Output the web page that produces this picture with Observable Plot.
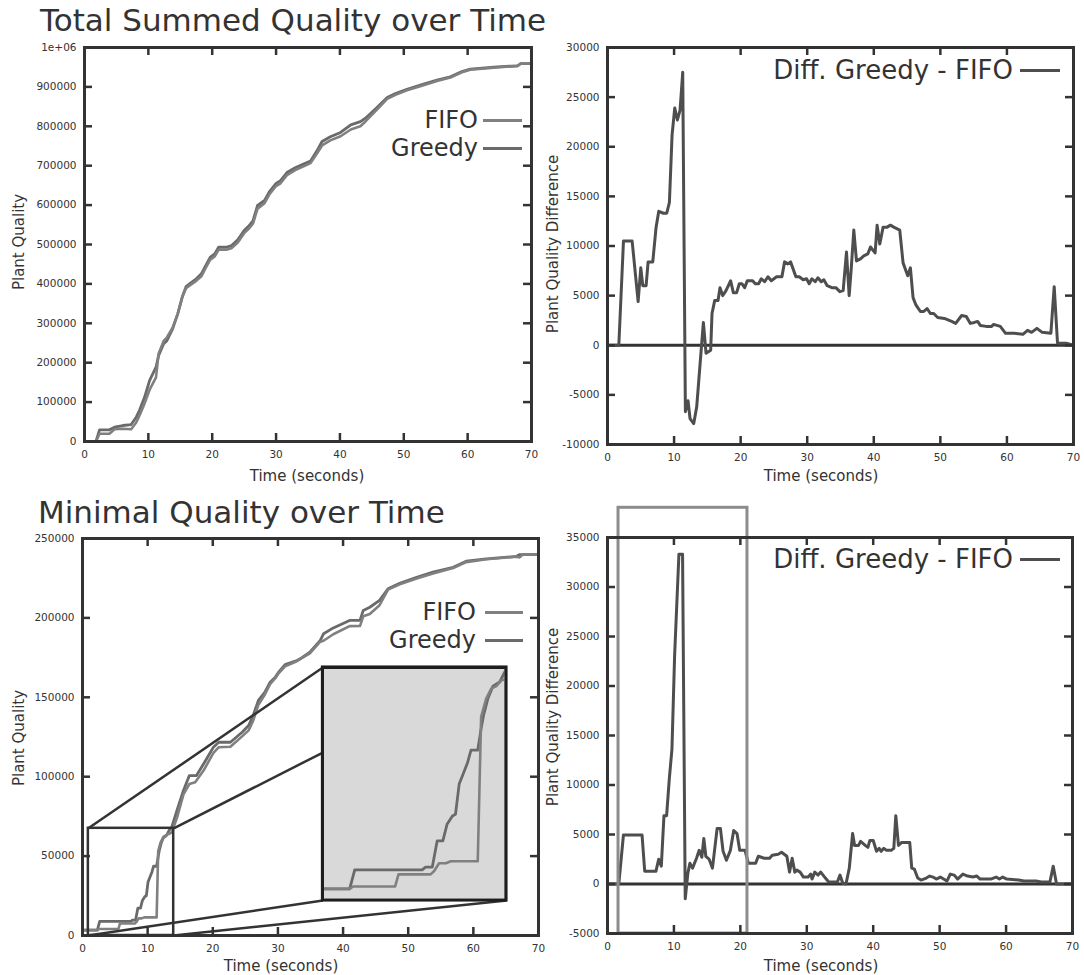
<!DOCTYPE html>
<html>
<head>
<meta charset="utf-8">
<script src="https://cdn.jsdelivr.net/npm/d3@7"></script>
<script src="https://cdn.jsdelivr.net/npm/@observablehq/plot@0.6"></script>
<style>
  html, body { margin: 0; padding: 0; background: #fff; }
  #root { position: relative; width: 1084px; height: 975px; overflow: hidden;
          font-family: "DejaVu Sans", sans-serif; color: #333; background: #fff; }
  #root svg { position: absolute; max-width: none; }
</style>
</head>
<body>
<div id="root"></div>
<script>
// ---------------- DATA ----------------
const xTicks = [0, 10, 20, 30, 40, 50, 60, 70];
const tlYTicks = [0, 100000, 200000, 300000, 400000, 500000, 600000, 700000, 800000, 900000, 1000000];
const trYTicks = [-10000, -5000, 0, 5000, 10000, 15000, 20000, 25000, 30000];
const blYTicks = [0, 50000, 100000, 150000, 200000, 250000];
const brYTicks = [-5000, 0, 5000, 10000, 15000, 20000, 25000, 30000, 35000];

const titles = ["Total Summed Quality over Time", "Minimal Quality over Time"];
const seriesNames = ["FIFO", "Greedy"];
const diffName = "Diff. Greedy - FIFO";
const xLabel = "Time (seconds)";
const yLabelQ = "Plant Quality";
const yLabelD = "Plant Quality Difference";

// Total summed quality
const tlTime = [1.8,2.35,3.9,4.7,6.0,7.3,8.1,8.6,9.4,10.2,11.2,11.6,12.4,12.9,13.8,14.6,15.3,15.9,16.6,17.5,18.3,19.0,19.7,20.4,21.0,22.2,23.0,24.0,25.0,25.8,26.4,27.1,28.2,29.0,30.0,30.7,31.7,33.0,34.3,35.4,36.4,37.2,38.5,40.1,41.7,43.2,44.0,45.8,47.4,48.7,50.5,53.1,55.2,57.3,59.1,60.4,64.6,67.8,68.3,70];
const tlGreedy = [0,29700,29700,36300,40600,43100,61700,78700,112000,155000,188500,218000,248000,256000,286000,324000,366000,393000,402000,413000,425600,446700,467800,476000,493000,493000,497000,512000,535500,548000,561000,599000,612000,635000,655000,662000,682700,695000,704000,712000,737800,761400,773300,784300,803700,812000,820600,847700,873000,883000,894000,907000,917000,925600,939000,945000,951000,953500,959000,959000];
const tlFifo = [0,19500,19500,31300,32200,31200,48400,65400,96000,131500,162500,223000,255400,263900,289000,324000,366500,389000,397500,407800,419300,441400,461700,469900,486500,486800,490400,505100,528800,541100,553400,590800,605000,628200,648400,655300,676100,689000,698200,706500,730800,751400,764300,774800,791800,800200,812300,842700,869600,879800,891300,904000,914700,923700,937100,943800,949400,953300,958800,959000];

// Difference of summed quality (Greedy - FIFO)
const trTime = [0,1.7,2.4,3.7,4.6,5.0,5.3,5.8,6.1,6.8,7.3,7.7,8.4,8.9,9.3,9.7,10.1,10.5,10.9,11.3,11.7,12.1,12.4,12.95,13.4,14.4,14.8,15.5,15.7,16.1,16.6,16.9,17.3,17.8,18.5,18.9,19.4,19.8,20.2,20.6,21.0,21.8,22.2,22.7,23.1,23.6,24.1,24.6,25.4,26.2,26.6,27.1,27.5,28.3,28.8,29.4,29.9,30.3,30.7,31.2,31.6,32.1,32.5,33.0,33.7,34.3,34.9,35.4,35.9,36.3,36.6,37.0,37.4,38.0,38.5,39.1,39.5,40.2,40.5,40.9,41.4,42.0,42.5,43.0,43.9,44.4,45.1,45.5,45.9,46.3,47.0,47.5,48.0,48.5,49.0,49.6,50.6,51.7,52.3,53.2,53.9,54.5,55.1,55.6,56.0,56.9,57.7,58.0,59.0,59.8,61.1,62.4,63.1,63.7,64.5,65.3,66.6,67.1,67.6,68.9,70];
const trDiff = [0,0,10500,10500,4400,7800,6000,6000,8400,8400,11900,13500,13300,13300,14400,21200,23900,22700,23700,27500,-6700,-5600,-7400,-7900,-6200,2300,-800,-500,3200,4500,4500,5800,5000,5500,6500,5300,5300,6200,6200,5800,6500,6500,6200,6200,6700,6400,6900,6500,6900,6900,8400,8200,8400,6900,6900,6600,6700,6200,6700,6400,6800,6400,6600,6000,5800,5800,5400,5500,9400,5000,7600,11600,8500,8700,9000,9200,9900,9300,12100,10200,11900,11900,12100,11900,11600,8300,7000,7800,4800,4100,3400,3400,3700,3200,3200,2800,2700,2400,2200,3000,2900,2200,2300,2400,2000,1900,1900,2100,1900,1200,1200,1100,1500,1300,1700,1300,1200,5900,200,200,0];

// Minimal quality
const blGreedyTime = [0.3,2.28,2.64,7.43,7.67,8.15,8.5,8.9,9.2,9.58,9.8,10.06,10.3,10.66,10.9,11.38,11.62,11.79,12.1,12.46,12.94,13.3,13.7,14.5,15.5,16.4,17.5,18.6,20.1,20.9,22.7,24.5,25.5,26.2,27.0,28.0,28.8,29.6,30.1,31.1,32.9,33.4,34.9,36.5,37.0,38.5,41.0,42.6,43.1,44.1,45.6,46.9,48.7,51.3,53.8,56.9,58.9,62.0,66.6,67.1,70];
const blGreedy = [3400,3400,8900,8900,9700,9700,17300,17300,22100,24500,25000,33750,36200,40000,43600,43600,49800,53600,58500,62100,63300,66200,68200,78700,91300,100700,100700,108100,118600,121700,121700,128000,132200,138500,148000,153200,159500,162700,165800,170600,173200,174200,178400,185800,190000,193700,198400,198400,204700,206700,211000,218300,221800,225600,228800,231900,235700,237200,238700,239900,240000];
const blFifoTime = [0.3,2.28,2.52,5.51,5.75,8.03,8.27,8.63,9.11,9.47,11.38,11.62,11.98,12.34,12.7,13.06,13.3,13.7,14.5,15.5,16.4,17.3,18.6,20.1,20.9,22.7,24.5,25.5,26.2,27.0,28.0,28.8,29.6,30.1,31.1,32.9,33.4,34.9,36.5,37.0,38.5,41.0,42.6,43.1,44.1,45.6,46.9,48.7,51.3,53.8,56.9,58.9,62.0,66.6,67.1,67.6,70];
const blFifo = [3400,3400,4100,4100,7600,7600,8500,10800,10800,11400,11400,53200,58500,61400,62100,63800,64000,65000,74100,88800,95400,96500,104000,115000,118500,118900,125400,129200,135300,145200,151800,158300,162000,165100,169500,172700,174000,177700,185000,185600,189700,194800,195000,201000,202500,208000,217800,221100,224800,228000,231400,235100,236900,238500,238100,239900,240000];

// Difference of minimal quality (Greedy - FIFO)
const brTime = [0,1.7,2.4,5.2,5.6,7.3,7.7,8.1,8.5,8.9,9.3,9.7,10.1,10.75,11.3,11.7,12.1,12.4,12.8,13.4,13.8,14.2,14.5,14.8,15.3,15.8,16.5,17.0,17.4,17.9,18.5,19.0,19.5,19.9,20.7,21.2,22.3,22.7,23.6,24.4,24.8,25.7,26.2,27.0,27.4,27.8,28.2,28.5,29.0,29.5,30.2,30.6,30.8,31.2,31.7,32.1,32.8,33.3,34.6,35.0,35.4,35.9,36.4,36.9,37.2,37.8,38.1,38.8,39.2,39.5,40.0,40.5,40.9,41.2,41.6,42.0,42.7,43.1,43.4,43.8,44.3,45.5,45.8,46.2,46.7,47.2,48.0,48.5,49.0,49.5,50.1,51.1,51.6,52.2,52.7,53.5,54.2,55.0,55.6,56.1,57.7,58.5,59.0,59.5,60.1,61.9,62.7,64.5,65.3,66.6,67.1,67.6,70];
const brDiff = [0,0,4950,4950,1300,1300,2500,1800,6900,6900,10600,13600,23000,33300,33300,-1500,1100,2100,1600,2600,3400,2700,4600,2800,2500,1600,5600,5600,3300,2400,3400,5400,5100,3400,3400,2100,2100,2800,2600,2600,2900,3000,3200,2800,1200,2600,1200,1400,1200,700,700,1000,500,1200,900,1200,600,200,200,900,100,0,1600,5100,3900,3900,4300,3900,3700,4400,4400,3300,3600,3300,3600,3400,3400,3600,6900,3900,4200,4200,1600,1500,600,400,600,800,700,500,700,300,1000,900,500,1000,800,700,800,500,500,700,500,700,500,400,300,300,200,200,1800,0,0];

// Annotations (data coordinates)
const zoomBox = [{x1: 0.9, x2: 14.0, y1: 0, y2: 67500}];
const insetBox = [{x1: 36.9, x2: 65.1, y1: 22000, y2: 168800}];
const insetDomainX = [0.35, 13.4];
const connectors = [
  {x1: 0.9, y1: 67500, x2: 36.9, y2: 168800},
  {x1: 14.0, y1: 67500, x2: 36.9, y2: 115200},
  {x1: 0.9, y1: 0, x2: 36.9, y2: 22000},
  {x1: 14.0, y1: 0, x2: 65.1, y2: 22000}
];
const highlight = [{x1: 1.66, x2: 21.07, y1: -5000, y2: 38000}];

// ---------------- BUILD ----------------
const W = 1084;
const root = document.getElementById("root");
const zip = (ts, vs) => ts.map((t, i) => ({t, v: vs[i]}));
const fmt = d => d === 1000000 ? "1e+06" : String(d);

const C_FIFO = "#808080", C_GREEDY = "#6a6a6a", C_DIFF = "#4e4e4e", C_AX = "#333333";

function panel({width, height, mt, mr, mb, ml, yDomain, yTicks, marks}) {
  const fh = height - mt - mb, fw = width - ml - mr;
  return Plot.plot({
    width, height, marginTop: mt, marginRight: mr, marginBottom: mb, marginLeft: ml,
    style: {fontFamily: "DejaVu Sans, sans-serif", fontSize: "10.5px", color: "#333", background: "transparent", overflow: "visible"},
    x: {domain: [0, 70], ticks: xTicks, tickSize: 0, tickPadding: 9, tickFormat: fmt, label: null},
    y: {domain: yDomain, ticks: yTicks, tickSize: 0, tickPadding: 8, tickFormat: fmt, label: null},
    marks: [
      ...marks,
      Plot.tickX(xTicks, {x: d => d, stroke: C_AX, strokeWidth: 2.5, insetTop: fh - 8}),
      Plot.tickX(xTicks, {x: d => d, stroke: C_AX, strokeWidth: 2.5, insetBottom: fh - 8}),
      Plot.tickY(yTicks, {y: d => d, stroke: C_AX, strokeWidth: 2.5, insetRight: fw - 8}),
      Plot.tickY(yTicks, {y: d => d, stroke: C_AX, strokeWidth: 2.5, insetLeft: fw - 8}),
      Plot.frame({stroke: C_AX, strokeWidth: 3})
    ]
  });
}
function place(el, left, top) {
  el.style.position = "absolute"; el.style.left = left + "px"; el.style.top = top + "px";
  root.appendChild(el);
}

// Top-left
const tl = panel({width: 545, height: 450, mt: 7, mr: 14, mb: 49, ml: 84,
  yDomain: [0, 1000000], yTicks: tlYTicks,
  marks: [
    Plot.line(zip(tlTime, tlGreedy), {x: "t", y: "v", stroke: C_GREEDY, strokeWidth: 2.8}),
    Plot.line(zip(tlTime, tlFifo), {x: "t", y: "v", stroke: C_FIFO, strokeWidth: 2.6})
  ]});
place(tl, 0, 40);

// Top-right
const tr = panel({width: 539, height: 450, mt: 7, mr: 11, mb: 46, ml: 62,
  yDomain: [-10000, 30000], yTicks: trYTicks,
  marks: [
    Plot.ruleY([0], {stroke: C_AX, strokeWidth: 3}),
    Plot.line(zip(trTime, trDiff), {x: "t", y: "v", stroke: C_DIFF, strokeWidth: 3})
  ]});
place(tr, 545, 40);

// Bottom-left
const bl = panel({width: 545, height: 475, mt: 38, mr: 7, mb: 40, ml: 82,
  yDomain: [0, 250000], yTicks: blYTicks,
  marks: [
    Plot.line(zip(blGreedyTime, blGreedy), {x: "t", y: "v", stroke: C_GREEDY, strokeWidth: 2.8}),
    Plot.line(zip(blFifoTime, blFifo), {x: "t", y: "v", stroke: C_FIFO, strokeWidth: 2.6}),
    Plot.rect(zoomBox, {x1: "x1", x2: "x2", y1: "y1", y2: "y2", fill: "none", stroke: C_AX, strokeWidth: 2.5}),
    Plot.link(connectors, {x1: "x1", y1: "y1", x2: "x2", y2: "y2", stroke: C_AX, strokeWidth: 2.5}),
    Plot.rect(insetBox, {x1: "x1", x2: "x2", y1: "y1", y2: "y2", fill: "#d9d9d9", stroke: "#1e1e1e", strokeWidth: 3})
  ]});
place(bl, 0, 500);

// Inset (zoomed view), placed using the bottom-left chart's own scales
{
  const sx = bl.scale("x"), sy = bl.scale("y");
  const left = sx.apply(insetBox[0].x1), right = sx.apply(insetBox[0].x2);
  const top = sy.apply(insetBox[0].y2), bottom = sy.apply(insetBox[0].y1);
  const inset = Plot.plot({
    width: right - left, height: bottom - top, margin: 0,
    style: {background: "transparent"},
    x: {domain: insetDomainX, axis: null},
    y: {domain: [zoomBox[0].y1, zoomBox[0].y2], axis: null},
    marks: [
      Plot.line(zip(blGreedyTime, blGreedy), {x: "t", y: "v", stroke: C_GREEDY, strokeWidth: 2.8, clip: true}),
      Plot.line(zip(blFifoTime, blFifo), {x: "t", y: "v", stroke: C_FIFO, strokeWidth: 2.6, clip: true}),
      Plot.frame({stroke: "#1e1e1e", strokeWidth: 3})
    ]
  });
  place(inset, left, 500 + top);
}

// Bottom-right
const br = panel({width: 539, height: 475, mt: 37, mr: 12, mb: 42, ml: 62,
  yDomain: [-5000, 35000], yTicks: brYTicks,
  marks: [
    Plot.ruleY([0], {stroke: C_AX, strokeWidth: 3}),
    Plot.line(zip(brTime, brDiff), {x: "t", y: "v", stroke: C_DIFF, strokeWidth: 3}),
    Plot.rect(highlight, {x1: "x1", x2: "x2", y1: "y1", y2: "y2", fill: "none", stroke: "#8c8c8c", strokeWidth: 3})
  ]});
place(br, 545, 500);

// ---------------- TEXT ----------------
function text(str, css) {
  const d = document.createElement("div");
  d.textContent = str;
  d.style.cssText = "position:absolute;line-height:1;white-space:nowrap;" + css;
  root.appendChild(d);
  return d;
}
function centered(str, cx, cy, size, rot) {
  text(str, `left:${cx}px;top:${cy}px;font-size:${size}px;transform:translate(-50%,-50%)${rot ? " rotate(-90deg)" : ""};`);
}
function sample(x1, x2, y, color) {
  const l = document.createElement("div");
  l.style.cssText = `position:absolute;left:${x1}px;top:${y - 1.5}px;width:${x2 - x1}px;height:3px;background:${color};`;
  root.appendChild(l);
}
function legendRow(str, color, textRight, x1, x2, y, size) {
  text(str, `right:${W - textRight}px;top:${y}px;font-size:${size}px;transform:translateY(-50%);`);
  sample(x1, x2, y, color);
}

text(titles[0], "left:40px;top:5px;font-size:31px;");
text(titles[1], "left:38px;top:497px;font-size:31px;");

centered(yLabelQ, 19, 242, 15, true);
centered(yLabelQ, 19, 738, 15, true);
centered(yLabelD, 553, 244, 15, true);
centered(yLabelD, 553, 717, 15, true);

centered(xLabel, 307, 476, 15, false);
centered(xLabel, 821, 476, 15, false);
centered(xLabel, 281, 966, 15, false);
centered(xLabel, 821, 966, 15, false);

legendRow(seriesNames[0], C_FIFO, 478, 483, 522, 120, 24);
legendRow(seriesNames[1], C_GREEDY, 478, 483, 522, 148, 24);
legendRow(seriesNames[0], C_FIFO, 476, 485, 523, 612, 24);
legendRow(seriesNames[1], C_GREEDY, 476, 485, 523, 640, 24);
legendRow(diffName, C_DIFF, 1013, 1020, 1060, 70, 26);
legendRow(diffName, C_DIFF, 1013, 1020, 1060, 559, 26);
</script>
</body>
</html>
